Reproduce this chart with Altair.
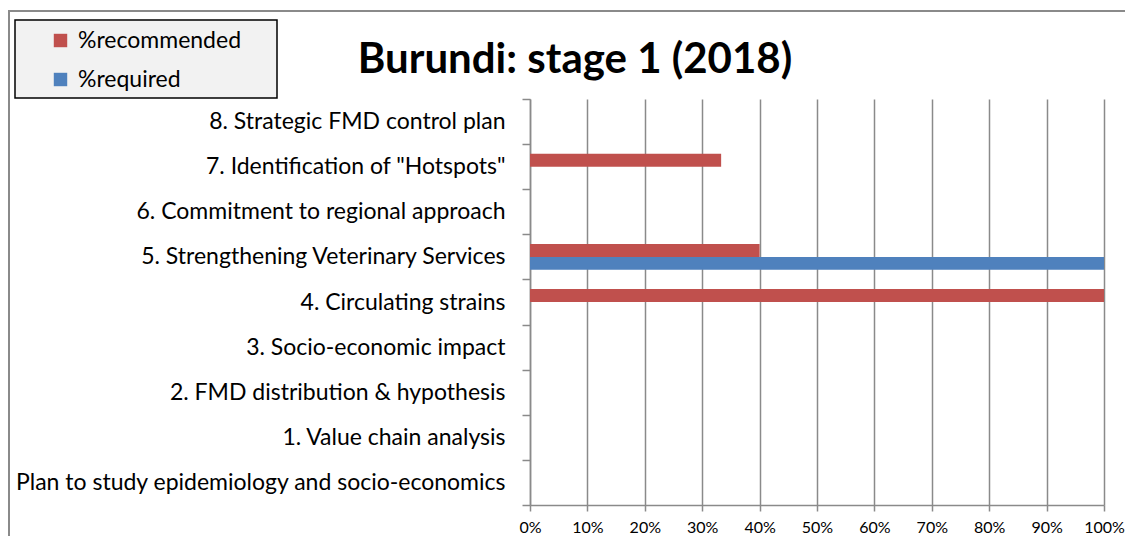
import altair as alt
import pandas as pd

categories = [
    "8. Strategic FMD control plan",
    '7. Identification of "Hotspots"',
    "6. Commitment to regional approach",
    "5. Strengthening Veterinary Services",
    "4. Circulating strains",
    "3. Socio-economic impact",
    "2. FMD distribution & hypothesis",
    "1. Value chain analysis",
    "Plan to study epidemiology and socio-economics",
]
recommended = [0.0, 0.333, 0.0, 0.40, 1.0, 0.0, 0.0, 0.0, 0.0]
required = [0.0, 0.0, 0.0, 1.0, 0.0, 0.0, 0.0, 0.0, 0.0]
series = ["%recommended", "%required"]
colors = ["#C0504D", "#4F81BD"]
x_ticks = [0.0, 0.1, 0.2, 0.3, 0.4, 0.5, 0.6, 0.7, 0.8, 0.9, 1.0]
title_text = "Burundi: stage 1 (2018)"

rows = []
for c, r, q in zip(categories, recommended, required):
    rows.append({"cat": c, "series": series[0], "value": r})
    rows.append({"cat": c, "series": series[1], "value": q})
df = pd.DataFrame(rows)

FONT = "Lato"
W, H = 574, 406
PAD_L, PAD_T = 522, 91
GRAY = "#8a8a8a"

one = pd.DataFrame({"t": [title_text]})

frame = alt.Chart(one).mark_rect(
    fill="transparent", stroke=GRAY, strokeWidth=2
).encode(
    x=alt.value(-521), x2=alt.value(W + 60),
    y=alt.value(-88), y2=alt.value(H + 80),
)

legend_box = alt.Chart(one).mark_rect(
    fill="#f2f2f2", stroke="black", strokeWidth=1.5
).encode(
    x=alt.value(-515), x2=alt.value(-253),
    y=alt.value(-79), y2=alt.value(-1),
)

title = alt.Chart(one).mark_text(
    font=FONT, fontSize=42, fontWeight="bold", color="black",
    align="center", baseline="alphabetic",
).encode(
    text="t:N", x=alt.value(45), y=alt.value(-26),
)

bars = alt.Chart(df).mark_bar().encode(
    x=alt.X(
        "value:Q",
        scale=alt.Scale(domain=[0, 1], nice=False),
        axis=alt.Axis(
            values=x_ticks, format="%", title=None, grid=True,
            gridColor=GRAY, gridWidth=1.5, domainColor=GRAY, domainWidth=1.5,
            tickColor=GRAY, tickWidth=1.5, tickSize=6,
            labelFontSize=16, labelFont=FONT, labelColor="black",
            labelPadding=8, labelFlush=False, labelOverlap=False,
        ),
    ),
    y=alt.Y(
        "cat:N", sort=categories,
        scale=alt.Scale(paddingInner=0, paddingOuter=0),
        axis=alt.Axis(
            title=None, tickBand="extent", tickSize=8, tickColor=GRAY,
            tickWidth=1.5, domainColor=GRAY, domainWidth=1.5,
            labelFontSize=23, labelFont=FONT, labelColor="black",
            labelPadding=17, labelLimit=600, grid=False,
        ),
    ),
    yOffset=alt.YOffset(
        "series:N", sort=series,
        scale=alt.Scale(paddingInner=0, paddingOuter=0.74),
    ),
    color=alt.Color(
        "series:N",
        scale=alt.Scale(domain=series, range=colors),
        legend=alt.Legend(
            title=None, orient="none", legendX=-481, legendY=-70,
            symbolType="square", symbolSize=180, symbolStrokeWidth=0,
            labelFontSize=23, labelFont=FONT, labelColor="black",
            labelOffset=6, rowPadding=15, padding=0, labelLimit=400,
        ),
    ),
)

chart = alt.layer(frame, legend_box, title, bars).properties(
    width=W, height=H,
    autosize=alt.AutoSizeParams(type="none"),
    padding={"left": PAD_L, "top": PAD_T, "right": 21, "bottom": 31},
).configure_view(stroke=None)

chart.save("out.html", embed_options={"renderer": "svg", "actions": False})
